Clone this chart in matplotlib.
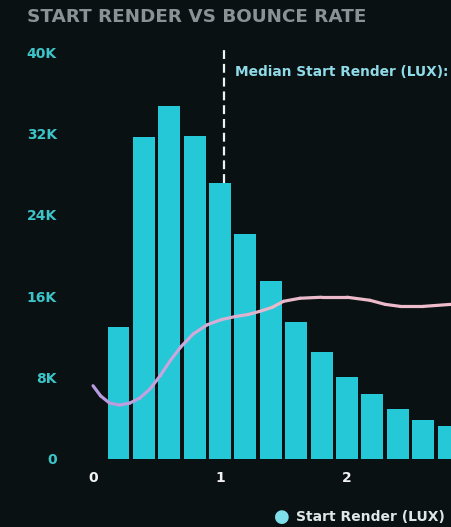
import matplotlib.pyplot as plt
import numpy as np
from matplotlib.collections import LineCollection
from matplotlib.colors import LinearSegmentedColormap

# start render buckets (seconds) and page views (thousands)
render_bins = [0.2, 0.4, 0.6, 0.8, 1.0, 1.2, 1.4, 1.6, 1.8, 2.0, 2.2, 2.4, 2.6, 2.8]
page_views_k = [13.0, 31.6, 34.7, 31.7, 27.1, 22.1, 17.5, 13.5, 10.5, 8.1, 6.4, 4.9, 3.8, 3.2]

# bounce rate curve, drawn on the same scale as the bars
bounce_x = [0.0, 0.06, 0.13, 0.21, 0.29, 0.37, 0.45, 0.53, 0.61, 0.69, 0.79, 0.9,
            1.01, 1.12, 1.22, 1.31, 1.41, 1.5, 1.63, 1.8, 2.0, 2.18, 2.3, 2.42, 2.6, 2.82]
bounce_y = [7.2, 6.2, 5.5, 5.3, 5.5, 6.0, 6.9, 8.2, 9.7, 11.0, 12.3, 13.2,
            13.7, 14.0, 14.2, 14.5, 14.9, 15.5, 15.8, 15.9, 15.9, 15.6, 15.2, 15.0, 15.0, 15.2]

median_render = 1.03
y_ticks = [0, 8, 16, 24, 32, 40]
y_labels = ["0", "8K", "16K", "24K", "32K", "40K"]
x_ticks = [0, 1, 2]

BG = "#0a1113"
BAR = "#24c8d6"
TEAL = "#3cc4c8"

fig = plt.figure(figsize=(4.51, 5.27), dpi=100, facecolor=BG)
ax = fig.add_axes([75 / 451, 68 / 527, 376 / 451, 409 / 527])
ax.set_facecolor(BG)

ax.bar(render_bins, page_views_k, width=0.172, color=BAR, zorder=2)

# gradient line lavender -> pink
pts = np.column_stack([bounce_x, bounce_y]).reshape(-1, 1, 2)
segs = np.concatenate([pts[:-1], pts[1:]], axis=1)
cmap = LinearSegmentedColormap.from_list("bounce", ["#b69ae0", "#c9a6dc", "#e9b9c9", "#eebccb"])
lc = LineCollection(segs, cmap=cmap, linewidth=2.3, capstyle="round", joinstyle="round", zorder=3)
lc.set_array(np.linspace(0, 1, len(segs)))
ax.add_collection(lc)

# median marker
ax.plot([median_render, median_render], [page_views_k[4], 40.2], color="#e8f4f6",
        linewidth=1.6, linestyle=(0, (4, 2.2)), zorder=3)
ax.text(median_render + 0.09, 38.0, "Median Start Render (LUX):", color="#8fdbe8",
        fontsize=9.9, fontweight="bold", ha="left", va="center")

ax.set_xlim(-0.142, 2.819)
ax.set_ylim(0, 40.2)
ax.set_yticks(y_ticks)
ax.set_yticklabels(y_labels, color=TEAL, fontsize=10, fontweight="bold")
ax.set_xticks(x_ticks)
ax.set_xticklabels([str(t) for t in x_ticks], color="#f2f2f2", fontsize=10, fontweight="bold")
ax.tick_params(axis="y", length=0, pad=13)
ax.tick_params(axis="x", length=0, pad=9)
for s in ax.spines.values():
    s.set_visible(False)

fig.text(27 / 451, 1 - 17 / 527, "START RENDER VS BOUNCE RATE", color="#8b9195",
         fontsize=13.2, fontweight="heavy", ha="left", va="center")

# legend
fig.text(282 / 451, 1 - 517 / 527, "\u25CF", color="#7fe0ec", fontsize=13, ha="center", va="center")
fig.text(296 / 451, 1 - 517 / 527, "Start Render (LUX)", color="#dfe6e8",
         fontsize=10, fontweight="bold", ha="left", va="center")

fig.savefig("out.png", dpi=100, facecolor=BG)
